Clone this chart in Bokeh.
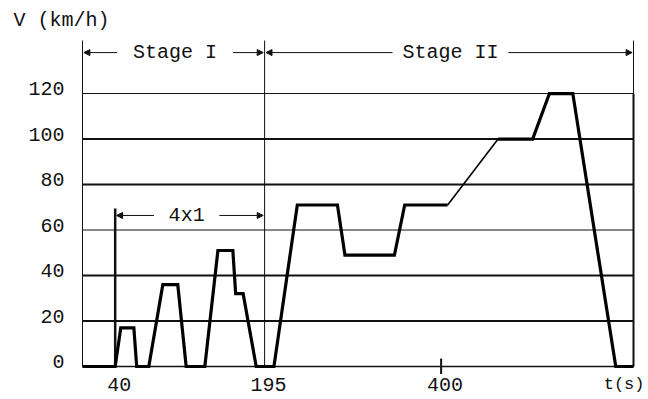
from bokeh.plotting import figure
from bokeh.models import Range1d, Arrow, NormalHead
from bokeh.core.properties import value
from bokeh.embed import file_html
from bokeh.resources import INLINE

# ---- data ----
time_s = [0, 35, 41, 55, 58, 71, 86, 102, 111, 131, 145, 161, 164, 172, 186,
          205, 230, 273, 281, 334, 345, 391, 445, 482, 500, 525, 571, 590]
speed_kmh = [0, 0, 17, 17, 0, 0, 36, 36, 0, 0, 51, 51, 32, 32, 0,
             0, 71, 71, 49, 49, 71, 71, 100, 100, 120, 120, 0, 0]
y_ticks = [0, 20, 40, 60, 80, 100, 120]
y_tick_labels = ["0", "20", "40", "60", "80", "100", "120"]
x_ticks = [35, 195, 384]
x_tick_labels = ["40", "195", "400"]
stage_bounds = [0, 195, 590]
stage_names = ["Stage I", "Stage II"]
repeat_start = 35
repeat_label = "4x1"
y_label = "V  (km/h)"
x_label = "t(s)"

# ---- styles ----
FONT = value("Liberation Mono")
FS = "20px"
INK = "#111111"
grid_widths = [1.5, 2, 2, 1, 2, 2, 1]

p = figure(width=648, height=399, min_border=0, toolbar_location=None,
           output_backend="svg", x_axis_type=None, y_axis_type=None,
           x_range=Range1d(-87.8, 606.06), y_range=Range1d(-14.5, 160.9),
           outline_line_color=None, background_fill_color="white",
           border_fill_color="white")

# horizontal grid lines
for yv, w in zip(y_ticks, grid_widths):
    p.segment(x0=[stage_bounds[0]], y0=[yv], x1=[stage_bounds[-1]], y1=[yv],
              line_color=INK, line_width=w)

top = 143.3
arrow_y = 138.0
# stage boundary verticals
p.segment(x0=stage_bounds, y0=[0] * 3, x1=stage_bounds, y1=[top] * 3,
          line_color=INK, line_width=1)
p.segment(x0=[stage_bounds[-1]], y0=[0], x1=[stage_bounds[-1]], y1=[y_ticks[-1]],
          line_color=INK, line_width=2)
# repeat marker
p.segment(x0=[repeat_start], y0=[0], x1=[repeat_start], y1=[69.5],
          line_color=INK, line_width=2.5)
# 400 tick
p.segment(x0=[x_ticks[2]], y0=[-3.3], x1=[x_ticks[2]], y1=[3.5],
          line_color=INK, line_width=2)

# speed curve (one thin segment)
k = 21
p.line(time_s[:k + 1], speed_kmh[:k + 1], line_color="black", line_width=3.2,
       line_join="miter")
p.line(time_s[k:k + 2], speed_kmh[k:k + 2], line_color="black", line_width=1.6)
p.line(time_s[k + 1:], speed_kmh[k + 1:], line_color="black", line_width=3.2,
       line_join="miter")


def dim_arrow(a, b, yv, half_gap, label, center_shift=0.0):
    mid = (a + b) / 2 + center_shift
    head = dict(size=6, fill_color=INK, line_color=INK)
    p.add_layout(Arrow(end=NormalHead(**head), x_start=mid - half_gap, y_start=yv,
                       x_end=a + 1.5, y_end=yv, line_color=INK, line_width=1))
    p.add_layout(Arrow(end=NormalHead(**head), x_start=mid + half_gap, y_start=yv,
                       x_end=b - 1.5, y_end=yv, line_color=INK, line_width=1))
    p.text(x=[mid], y=[yv], text=[label], text_font=FONT, text_font_size=FS,
           text_align="center", text_baseline="middle", text_color=INK)


dim_arrow(stage_bounds[0], stage_bounds[1], arrow_y, 62, stage_names[0], 1.5)
dim_arrow(stage_bounds[1], stage_bounds[2], arrow_y, 62, stage_names[1], 1.5)
dim_arrow(repeat_start, stage_bounds[1], 66.4, 35, repeat_label, -3.5)

# y tick labels
p.text(x=[0] * len(y_ticks), y=y_ticks, text=y_tick_labels, text_font=FONT,
       text_font_size=FS, text_align="right", text_baseline="middle",
       x_offset=-18, y_offset=-5, text_color=INK)
# x tick labels
p.text(x=x_ticks, y=[0] * len(x_ticks), text=x_tick_labels, text_font=FONT,
       text_font_size=FS, text_align="center", text_baseline="middle",
       x_offset=4, y_offset=18, text_color=INK)
# axis titles
p.text(x=[stage_bounds[-1]], y=[0], text=[x_label], text_font=FONT,
       text_font_size="17px", text_align="right", text_baseline="middle",
       x_offset=11, y_offset=18, text_color=INK)
p.text(x=[-74], y=[152], text=[y_label], text_font=FONT, text_font_size=FS,
       text_align="left", text_baseline="middle", text_color=INK)

open("out.html", "w").write(file_html(p, INLINE))
